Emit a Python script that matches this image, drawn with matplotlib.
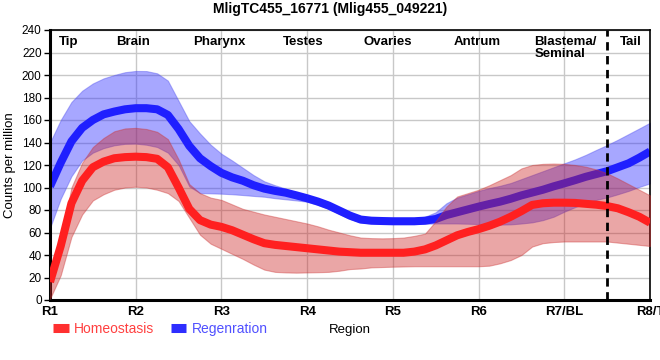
import numpy as np
import matplotlib
matplotlib.use("Agg")
import matplotlib.pyplot as plt
from matplotlib.lines import Line2D

plt.rcParams['font.family'] = ['Liberation Sans', 'DejaVu Sans']

# ----------------------------
# data (position 1 = R1 ... 8 = R8/T, step 1/8)
# ----------------------------
pos = np.arange(1.0, 8.001, 0.125)

homeo_mean = [16, 48, 86, 106, 118, 123, 126, 127, 127.4, 127, 125.5, 118, 100, 81, 71,
              67, 65, 62, 58, 54, 50.5, 49, 48, 47, 46, 45, 44, 43, 42.5, 42,
              42, 42, 42, 42, 43, 45, 48.5, 53, 57.5, 60.5, 63, 66, 69.6, 74, 79,
              84.5, 86, 86.5, 86.5, 86.3, 85.5, 84.7, 83.5, 81.5, 78, 74, 68.7]
homeo_hi = [20, 53, 100, 122, 136, 144, 150, 152.5, 153, 152, 149.5, 143, 125, 103, 95,
            91, 89, 85, 81, 78.5, 76, 74, 72, 70, 68, 65.5, 62.5, 60, 57.5, 55.5,
            55, 54.8, 55, 55.5, 57, 59, 70, 83, 92, 95, 98, 102, 106.5, 111, 117,
            120, 121, 121.3, 121, 120, 118.5, 116, 112.6, 108, 103, 98, 93]
homeo_lo = [1, 22, 56, 76, 88.5, 94, 98, 100, 100.7, 100, 98, 95, 88, 73, 58,
            50, 45.5, 41, 36.5, 31.5, 27, 25, 24.5, 24.3, 24.5, 24.7, 25, 26, 27.5, 28,
            29, 29.3, 29.6, 29.8, 30, 30, 30, 30, 30, 30, 30, 30.5, 32.6, 35.5, 40,
            47.5, 50.5, 51.5, 52, 52, 52, 52, 52, 51, 50, 49, 48]

regen_mean = [101, 122, 141, 153, 160, 165, 167.5, 169.5, 170.5, 170.5, 169.5, 164.5, 152, 137, 126,
              119, 113, 109, 106, 102, 99, 97, 95.4, 93, 90.4, 87.5, 84, 79.5, 75, 71.5,
              70.5, 70.2, 70, 70, 70, 70.5, 72, 75.5, 78, 80.5, 83, 85.3, 87.4, 90, 93,
              95.5, 98, 101, 103.7, 106.5, 109.5, 112, 114.5, 118, 121.5, 126.5, 132]
regen_hi = [140, 160, 176, 186, 192.5, 197, 200, 202.5, 203.6, 203.5, 201.5, 195, 177, 159, 148,
            138, 130, 124, 117.5, 111, 105.5, 102, 99, 95.5, 92.5, 89.5, 86, 81.5, 77.5, 74,
            73, 72.5, 72.5, 72.5, 72.8, 74, 78, 86, 91, 94, 97, 99.5, 101.5, 104, 107.5,
            111, 114.5, 118, 121.5, 125, 129, 133.5, 137.8, 142.5, 147.5, 152.5, 157.6]
regen_lo = [64, 90, 110, 124, 131, 135, 137.5, 138.8, 139, 138, 136, 131, 120, 101, 95,
            94.8, 94.5, 94, 93.3, 92.5, 91.8, 90.5, 89.5, 88.5, 87.4, 84.5, 81, 76.5, 72, 69,
            68, 67.6, 67.5, 67.5, 67.5, 67.8, 68, 68, 68, 67.8, 67.5, 67.2, 67, 67.2, 68,
            69, 71, 74, 78.5, 82.5, 86, 89, 91.2, 94, 97, 100.5, 103.7]

tick_pos = [1, 2, 3, 4, 5, 6, 7, 8]
tick_labels = ["R1", "R2", "R3", "R4", "R5", "R6", "R7/BL", "R8/T"]

region_names = ["Tip", "Brain", "Pharynx", "Testes", "Ovaries", "Antrum", "Blastema/\nSeminal", "Tail"]
region_x = [1.22, 1.97, 2.98, 3.95, 4.94, 5.98, 6.65, 7.78]
region_ha = ["center"] * 6 + ["left", "center"]

tail_boundary = 7.5

# ----------------------------
# plot
# ----------------------------
fig = plt.figure(figsize=(6.6, 3.6), dpi=100)
ax = fig.add_axes([50 / 660, 1 - 300 / 360, 600 / 660, 270 / 360])

# regeneration first, homeostasis band goes over its line (purple overlap)
ax.fill_between(pos, regen_lo, regen_hi, color="#3333ff", alpha=0.43, lw=0.8,
                edgecolor="#5555ee", zorder=1)
ax.plot(pos, regen_mean, color="#1f1fff", lw=5.8, solid_capstyle="butt", zorder=2)
ax.fill_between(pos, homeo_lo, homeo_hi, color="#cc2222", alpha=0.4, lw=0.8,
                edgecolor="#cc3333", zorder=3)
ax.plot(pos, homeo_mean, color="#ff2020", lw=5.8, solid_capstyle="butt", zorder=4)

ax.axvline(tail_boundary, color="black", lw=2, ls=(0, (3, 2)), zorder=5)

for name, x, ha in zip(region_names, region_x, region_ha):
    ax.text(x, 235, name, ha=ha, va="top", fontsize=9.5, fontweight="bold",
            linespacing=1.05, zorder=6)

ax.set_xlim(1, 8)
ax.set_ylim(0, 240)
ax.set_yticks(np.arange(0, 241, 20))
ax.set_xticks(tick_pos)
ax.set_xticklabels(tick_labels, fontweight="bold", fontsize=9.5)
ax.tick_params(axis="y", labelsize=8.5, length=4, width=1, pad=2)
ax.tick_params(axis="x", length=0, pad=4)
ax.grid(True, color="#c8c8c8", lw=1, zorder=0)
ax.set_axisbelow(True)

for side in ["left", "bottom"]:
    ax.spines[side].set_linewidth(2.2)
for side in ["top", "right"]:
    ax.spines[side].set_linewidth(1.2)

ax.set_ylabel("Counts per million", fontsize=9.5, labelpad=4)
ax.set_xlabel("Region", fontsize=9.5, labelpad=5)

fig.suptitle("MligTC455_16771 (Mlig455_049221)", fontsize=10, fontweight="bold",
             x=0.5, y=0.995)

handles = [Line2D([0], [0], color="#ff3030", lw=6.5, solid_capstyle="butt"),
           Line2D([0], [0], color="#2e2eff", lw=6.5, solid_capstyle="butt")]
fig.legend(handles, ["Homeostasis", "Regenration"], loc="center left",
           bbox_to_anchor=(0.062, 0.086), ncol=2, frameon=False, fontsize=10,
           handlelength=1.1, handletextpad=0.4, columnspacing=1.2,
           labelcolor=["#ff4040", "#5050ff"])

plt.savefig("out.png", dpi=100)
